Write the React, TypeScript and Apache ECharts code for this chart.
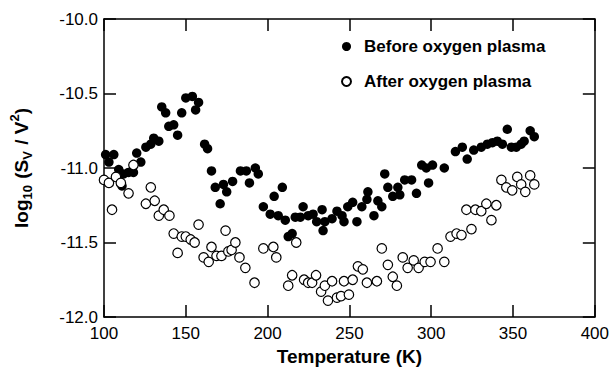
import React, { useEffect, useRef } from "react";
import * as echarts from "echarts";

const beforeT = [101, 106, 103, 109, 112, 115, 118, 111, 120, 122.5, 125.6, 128.6, 130.4, 133.5, 135.3, 137.7, 139.6, 142.6, 145, 147.5, 150, 154, 157.8, 156, 161.5, 163.3, 165.7, 168, 173, 171, 175, 178.6, 183.4, 187, 192.5, 194.3, 188.9, 204, 209, 197.4, 201.6, 206.5, 210.8, 212.6, 215, 216.9, 221.7, 220, 224.8, 227.8, 230, 233.3, 233.9, 235, 239.4, 242.4, 245.5, 246.7, 249, 252, 254.6, 257.6, 260.7, 261.3, 265, 267.4, 269.8, 271.6, 273.5, 276.5, 280.8, 279.6, 283.8, 288, 291, 294.2, 297, 298.4, 300.8, 308, 314.8, 319, 322, 326, 330.6, 334.3, 337.4, 340.4, 343.5, 346.5, 349, 352, 355, 356.8, 360.5, 363];
const beforeV = [-10.91, -10.91, -10.96, -11.01, -11.04, -11.03, -11.03, -11.12, -10.9, -10.96, -10.86, -10.84, -10.8, -10.82, -10.59, -10.63, -10.72, -10.71, -10.78, -10.63, -10.53, -10.52, -10.56, -10.61, -10.84, -10.87, -11.02, -11.13, -11.11, -11.24, -11.16, -11.09, -11.02, -11.02, -11.0, -11.04, -11.1, -11.19, -11.13, -11.26, -11.31, -11.32, -11.35, -11.46, -11.44, -11.33, -11.26, -11.33, -11.32, -11.31, -11.36, -11.28, -11.42, -11.36, -11.34, -11.29, -11.32, -11.36, -11.26, -11.23, -11.36, -11.26, -11.21, -11.16, -11.32, -11.22, -11.26, -11.04, -11.13, -11.19, -11.18, -11.13, -11.08, -11.08, -11.17, -10.98, -11.0, -11.1, -10.98, -11.0, -10.89, -10.86, -10.94, -10.88, -10.86, -10.84, -10.83, -10.82, -10.84, -10.74, -10.86, -10.86, -10.84, -10.82, -10.75, -10.79];

const afterT = [100, 103, 104.9, 107.3, 110.3, 115, 118, 125.6, 128.6, 131, 133.5, 136.5, 140, 142.6, 145, 147.5, 150, 153, 155.4, 157.8, 160.9, 164, 165.7, 168.8, 171.8, 174.3, 176, 178, 180.3, 182.8, 186.4, 192, 197.4, 203.5, 205.3, 212.6, 215, 217.5, 222.3, 224.8, 227.2, 229.6, 232.7, 235, 236.9, 239.4, 242.4, 244.9, 246.7, 249.7, 252, 255.2, 258.2, 260.7, 266.8, 269.8, 273.5, 276.5, 279, 282.6, 285.6, 289.3, 292.3, 296, 299.6, 303.9, 308, 311.8, 315.5, 318.5, 324.6, 321.5, 327, 330.6, 333.7, 336.8, 339.8, 342.9, 345.9, 349.5, 352.6, 355, 357.5, 360.5, 363];
const afterV = [-11.08, -11.1, -11.28, -11.06, -11.1, -11.17, -10.98, -11.24, -11.13, -11.22, -11.32, -11.28, -11.32, -11.44, -11.57, -11.46, -11.46, -11.48, -11.5, -11.38, -11.6, -11.63, -11.53, -11.59, -11.59, -11.42, -11.56, -11.55, -11.5, -11.6, -11.67, -11.77, -11.54, -11.53, -11.6, -11.79, -11.72, -11.5, -11.75, -11.77, -11.77, -11.72, -11.83, -11.79, -11.89, -11.76, -11.87, -11.86, -11.76, -11.85, -11.75, -11.66, -11.68, -11.77, -11.76, -11.54, -11.65, -11.73, -11.79, -11.6, -11.67, -11.62, -11.67, -11.63, -11.63, -11.54, -11.63, -11.46, -11.44, -11.45, -11.41, -11.28, -11.28, -11.29, -11.24, -11.35, -11.25, -11.08, -11.13, -11.15, -11.06, -11.11, -11.16, -11.05, -11.11];

const seriesNames = ["Before oxygen plasma", "After oxygen plasma"];

const FONT = "Liberation Sans";

export default function App() {
  const ref = useRef<HTMLDivElement>(null);
  useEffect(() => {
    if (!ref.current) return;
    const chart = echarts.init(ref.current, undefined, { renderer: "svg" });
    const axisLine = { show: true, lineStyle: { color: "#000", width: 1.5 } };
    const tick = { show: true, inside: true, length: 12, lineStyle: { color: "#000", width: 1.5 } };
    const label = { color: "#000", fontSize: 17, fontFamily: FONT };
    chart.setOption({
      animation: false,
      backgroundColor: "#fff",
      grid: { left: 103, right: 16, top: 19, bottom: 53, containLabel: false },
      legend: {
        data: seriesNames,
        orient: "vertical",
        left: 336,
        top: 33,
        itemWidth: 9,
        itemHeight: 9,
        itemGap: 18,
        textStyle: { fontSize: 17, fontWeight: "bold", color: "#000", fontFamily: FONT, padding: [0, 0, 0, 8] },
      },
      xAxis: [
        {
          type: "value", min: 100, max: 400, interval: 50, position: "bottom",
          axisLine, axisTick: tick, splitLine: { show: false },
          axisLabel: { ...label, margin: 8 },
          name: "Temperature (K)", nameLocation: "middle", nameGap: 30,
          nameTextStyle: { fontSize: 19, fontWeight: "bold", color: "#000", fontFamily: FONT },
        },
        {
          type: "value", min: 100, max: 400, interval: 50, position: "top",
          axisLine, axisTick: tick, splitLine: { show: false }, axisLabel: { show: false },
        },
      ],
      yAxis: [
        {
          type: "value", min: -12, max: -10, interval: 0.5, position: "left",
          axisLine, axisTick: tick, splitLine: { show: false },
          axisLabel: { ...label, margin: 6, formatter: (v: number) => v.toFixed(1) },
          name: "{a|log}{s|10}{a| (S}{s|V}{a| / V}{p|2}{a|)}",
          nameLocation: "middle", nameRotate: 90, nameGap: 70,
          nameTextStyle: {
            rich: {
              a: { fontSize: 19, fontWeight: "bold", color: "#000", fontFamily: FONT, lineHeight: 26, verticalAlign: "middle" },
              s: { fontSize: 13, fontWeight: "bold", color: "#000", fontFamily: FONT, lineHeight: 26, verticalAlign: "bottom", padding: [8, 1, 0, 0] },
              p: { fontSize: 13, fontWeight: "bold", color: "#000", fontFamily: FONT, lineHeight: 26, verticalAlign: "top", padding: [0, 0, 6, 0] },
            },
          },
        },
        {
          type: "value", min: -12, max: -10, interval: 0.5, position: "right",
          axisLine, axisTick: tick, splitLine: { show: false }, axisLabel: { show: false },
        },
      ],
      series: [
        {
          name: seriesNames[0], type: "scatter", xAxisIndex: 0, yAxisIndex: 0,
          symbol: "circle", symbolSize: 9.5,
          itemStyle: { color: "#000", opacity: 1 },
          data: beforeT.map((t, i) => [t, beforeV[i]]),
        },
        {
          name: seriesNames[1], type: "scatter", xAxisIndex: 0, yAxisIndex: 0,
          symbol: "circle", symbolSize: 9.5,
          itemStyle: { color: "#fff", borderColor: "#000", borderWidth: 1.2, opacity: 1 },
          data: afterT.map((t, i) => [t, afterV[i]]),
        },
      ],
    });
    return () => chart.dispose();
  }, []);
  return <div ref={ref} style={{ width: 612, height: 371, position: "absolute", left: 0, top: 0 }} />;
}
